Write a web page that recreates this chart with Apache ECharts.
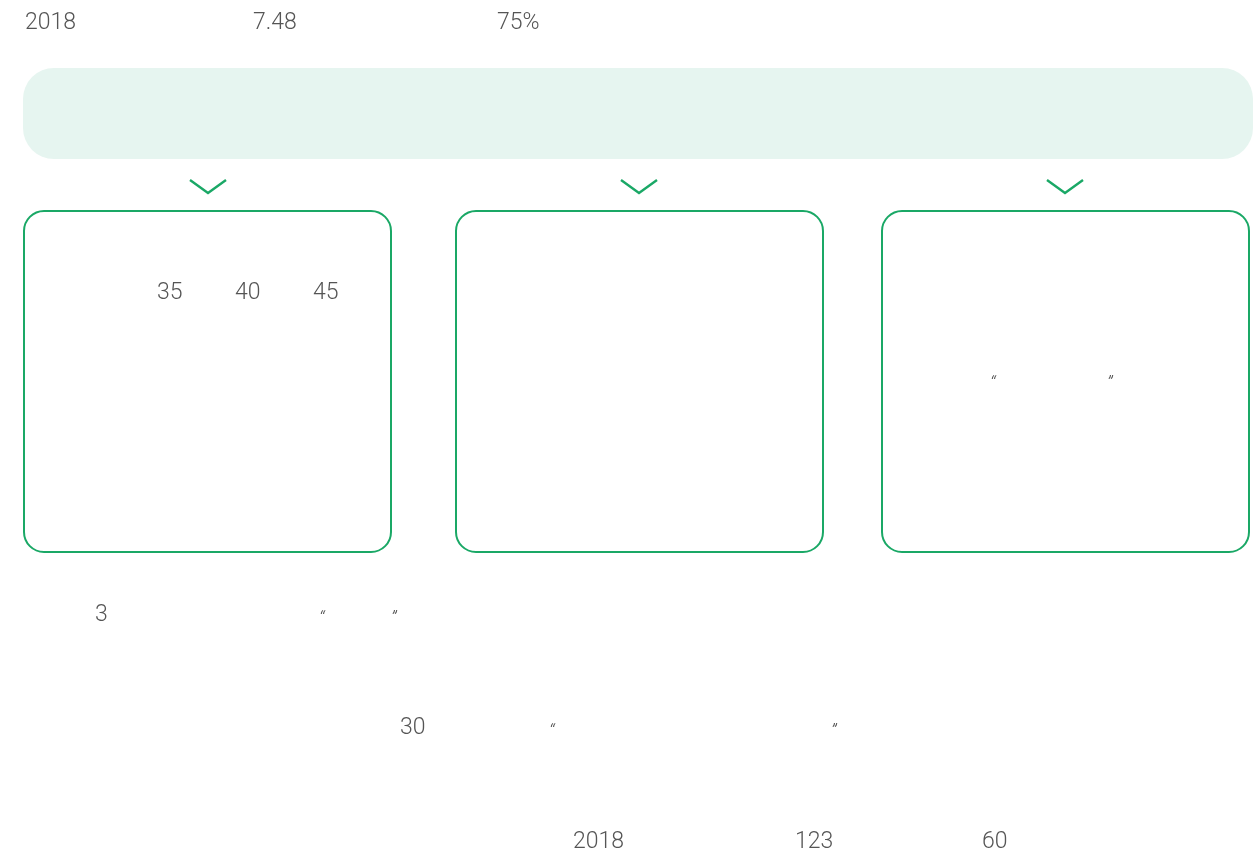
<!DOCTYPE html>
<html>
<head>
<meta charset="utf-8">
<script src="https://cdn.jsdelivr.net/npm/echarts@6/dist/echarts.min.js"></script>
<style>
html,body{margin:0;padding:0;background:#fff;}
#main{width:1259px;height:859px;}
</style>
</head>
<body>
<div id="main"></div>
<script>
// Visible text fragments of the infographic (values as shown)
var headerValues = ['2018', '7.48', '75%'];
var box1Values = ['35', '40', '45'];
var box3Quotes = ['\u201C', '\u201D'];
var line1Tokens = ['3', '\u201C', '\u201D'];
var line2Tokens = ['30', '\u201C', '\u201D'];
var footerValues = ['2018', '123', '60'];

// Layout (positions kept separate from the values)
var layout = {
  header: { y: 23, xs: [25, 253, 497] },
  box1: { y: 293, xs: [157, 235, 313] },
  box3: { y: 380, xs: [990, 1107] },
  line1: { y: 615, xs: [95, 319, 391] },
  line2: { y: 728, xs: [400, 549, 831] },
  footer: { y: 842, xs: [573, 795, 982] }
};

var GREEN = '#1aa866';
var TEXT = '#555555';
var FONT = 'Roboto, "Noto Sans", sans-serif';

function isQuote(v) { return v === '\u201C' || v === '\u201D'; }

function texts(values, spec) {
  return values.map(function (v, i) {
    var q = isQuote(v);
    return {
      type: 'text',
      x: spec.xs[i],
      y: spec.y + (q ? 4 : 0),
      style: {
        text: v,
        fill: TEXT,
        font: q ? ('italic 300 19px ' + FONT) : ('300 23px ' + FONT),
        textAlign: 'left',
        textVerticalAlign: 'middle'
      }
    };
  });
}

var boxes = [24, 456, 882].map(function (x) {
  return {
    type: 'rect',
    shape: { x: x, y: 211, width: 367, height: 341, r: 20 },
    style: { fill: '#ffffff', stroke: GREEN, lineWidth: 2 }
  };
});

var chevrons = [208, 639, 1065].map(function (cx) {
  return {
    type: 'polyline',
    shape: { points: [[cx - 18, 180], [cx, 193], [cx + 18, 180]] },
    style: { stroke: GREEN, lineWidth: 2.4, fill: null }
  };
});

var elements = [
  {
    type: 'rect',
    shape: { x: 23, y: 68, width: 1230, height: 91, r: 31 },
    style: { fill: '#e6f5f0' }
  }
].concat(chevrons, boxes,
  texts(headerValues, layout.header),
  texts(box1Values, layout.box1),
  texts(box3Quotes, layout.box3),
  texts(line1Tokens, layout.line1),
  texts(line2Tokens, layout.line2),
  texts(footerValues, layout.footer)
);

var chart = echarts.init(document.getElementById('main'), null, { renderer: 'canvas' });
chart.setOption({
  backgroundColor: '#ffffff',
  animation: false,
  graphic: { elements: elements }
});
</script>
</body>
</html>
